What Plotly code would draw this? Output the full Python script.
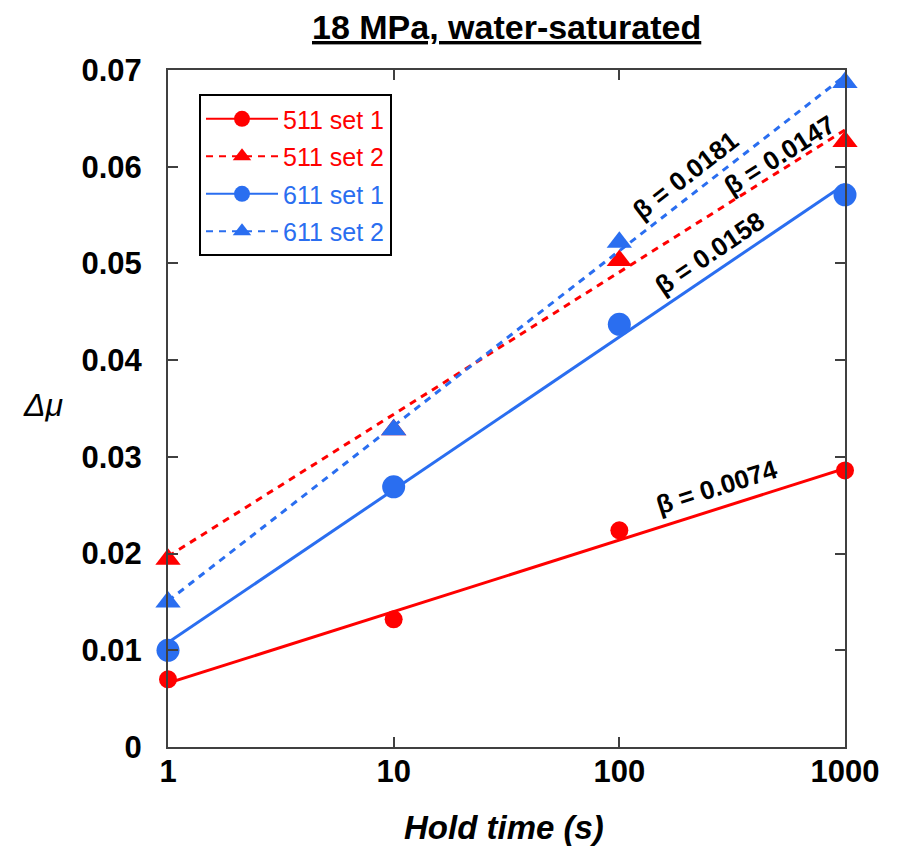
import numpy as np
import plotly.graph_objects as go

# ---- data ----
hold_time = [1, 10, 100, 1000]
mu_511_set1 = [0.0070, 0.0132, 0.0224, 0.0286]
mu_511_set2 = [0.0194, 0.0328, 0.0503, 0.0626]
mu_611_set1 = [0.0100, 0.0269, 0.0437, 0.0571]
mu_611_set2 = [0.0150, 0.0328, 0.0522, 0.0687]
series_names = ["511 set 1", "511 set 2", "611 set 1", "611 set 2"]
beta_values = [0.0074, 0.0147, 0.0158, 0.0181]
fit_intercepts = [0.0066, 0.0197, 0.0108, 0.0151]
x_ticks = [1, 10, 100, 1000]
x_ticktext = ["1", "10", "100", "1000"]

RED = "#FF0000"
BLUE = "#2A6EF0"
FONT = "Liberation Sans"

series = [
    (series_names[0], mu_511_set1, RED, "circle", 18, "solid", 0),
    (series_names[1], mu_511_set2, RED, "triangle-up", 22, "7px,6px", 1),
    (series_names[2], mu_611_set1, BLUE, "circle", 23, "solid", 2),
    (series_names[3], mu_611_set2, BLUE, "triangle-up", 22, "7px,6px", 3),
]

fig = go.Figure()
fit_x = np.array([hold_time[0], hold_time[-1]], dtype=float)
for name, ys, color, sym, size, dash, i in series:
    fit_y = fit_intercepts[i] + beta_values[i] * np.log10(fit_x)
    fig.add_trace(go.Scatter(x=fit_x, y=fit_y, mode="lines",
                             line=dict(color=color, width=3, dash=dash),
                             showlegend=False, hoverinfo="skip"))
    fig.add_trace(go.Scatter(x=hold_time, y=ys, mode="markers", cliponaxis=False,
                             marker=dict(color=color, symbol=sym, size=size, line=dict(width=0)),
                             showlegend=False))
# legend entries
for name, ys, color, sym, size, dash, i in series:
    fig.add_trace(go.Scatter(x=[None], y=[None], mode="lines+markers",
                             name=f'<span style="color:{color}">{name}</span>',
                             legendgroup=name,
                             line=dict(color=color, width=2, dash=dash),
                             marker=dict(color=color, symbol=sym, size=16, line=dict(width=0))))

# beta labels (position in log10 x, y) and angle
beta_pos = [(2.432, 0.02689, -17.6), (2.711, 0.06122, -32.2), (2.401, 0.05109, -34.1), (2.295, 0.05915, -37.8)]
for (bx, by, ang), b in zip(beta_pos, beta_values):
    fig.add_annotation(x=bx, y=by, xref="x", yref="y", text=f"<b>β = {b}</b>",
                       showarrow=False, textangle=ang, xanchor="center", yanchor="middle",
                       font=dict(family=FONT, size=26, color="black"))

fig.add_annotation(x=0.5, y=1.0635, xref="paper", yref="paper",
                   text="<b><u>18 MPa, water-saturated</u></b>", showarrow=False,
                   font=dict(family=FONT, size=34, color="black"), xanchor="center", yanchor="middle")
fig.add_annotation(x=0.497, y=-0.1196, xref="paper", yref="paper",
                   text="<b><i>Hold time (s)</i></b>", showarrow=False,
                   font=dict(family=FONT, size=33, color="black"), xanchor="center", yanchor="middle")
fig.add_annotation(x=-0.185, y=0.505, xref="paper", yref="paper",
                   text="<i>Δμ</i>", showarrow=False,
                   font=dict(family=FONT, size=32, color="black"), xanchor="center", yanchor="middle")

axis_common = dict(showline=True, mirror="ticks", linecolor="#404040", linewidth=2,
                   ticks="inside", ticklen=10, tickwidth=2, tickcolor="#404040",
                   showgrid=False, zeroline=False,
                   tickfont=dict(family=FONT, size=31, color="black", weight="bold"))

fig.update_xaxes(type="log", range=[0, 3], tickvals=x_ticks, ticktext=x_ticktext,
                 ticklabelstandoff=-4, **axis_common)
fig.update_yaxes(range=[0, 0.07], dtick=0.01, tick0=0, ticklabelstandoff=18, **axis_common)

fig.update_layout(
    width=895, height=840,
    margin=dict(l=160, r=58, t=62, b=101),
    plot_bgcolor="white", paper_bgcolor="white",
    font=dict(family=FONT),
    legend=dict(x=0.0458, y=0.9645, xanchor="left", yanchor="top",
                bordercolor="black", borderwidth=2, bgcolor="white", itemwidth=72,
                font=dict(family=FONT, size=25), tracegroupgap=2),
)

fig.write_html("out.html")
